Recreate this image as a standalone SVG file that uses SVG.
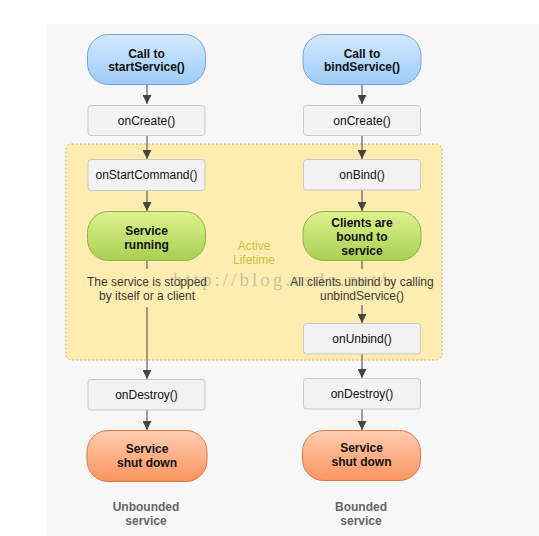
<svg xmlns="http://www.w3.org/2000/svg" width="539" height="536" viewBox="0 0 539 536">
<defs>
<linearGradient id="gBlue" x1="0" y1="0" x2="0" y2="1"><stop offset="0" stop-color="#d3eafd"/><stop offset="1" stop-color="#9dcbf8"/></linearGradient>
<linearGradient id="gGreen" x1="0" y1="0" x2="0" y2="1"><stop offset="0" stop-color="#def38e"/><stop offset="1" stop-color="#a8cf52"/></linearGradient>
<linearGradient id="gOrange" x1="0" y1="0" x2="0" y2="1"><stop offset="0" stop-color="#ffcdb0"/><stop offset="1" stop-color="#fb9460"/></linearGradient>
<marker id="arr" viewBox="0 0 10 10" refX="10" refY="5" markerWidth="9" markerHeight="9" markerUnits="userSpaceOnUse" orient="auto"><path d="M0,0 L10,5 L0,10 z" fill="#444"/></marker>
<style>
.box{fill:#f2f2f2;stroke:#c9c9c9;stroke-width:1}
.blue{fill:url(#gBlue);stroke:#789fe6;stroke-width:1}
.green{fill:url(#gGreen);stroke:#8fb04c;stroke-width:1}
.orange{fill:url(#gOrange);stroke:#d77a44;stroke-width:1}
.t{font-family:"Liberation Sans",Arial,sans-serif;font-size:12px;fill:#111;text-anchor:middle}
.b{font-weight:bold}
.d{fill:#3a3a3a}
.cap{font-family:"Liberation Sans",Arial,sans-serif;font-size:12px;font-weight:bold;fill:#666;text-anchor:middle}
.c{stroke:#444;stroke-width:1;fill:none}
.ca{stroke:#444;stroke-width:1;fill:none;marker-end:url(#arr)}
</style>
</defs>
<rect x="0" y="0" width="539" height="536" fill="#ffffff"/>
<rect x="47" y="24" width="492" height="512" fill="#f7f7f7"/>
<rect id="activeLifetime" x="66" y="144" width="376" height="216" rx="6" fill="#feedb0" stroke="#e0a15e" stroke-width="1" stroke-dasharray="2,2"/>
<text class="t" x="254" y="250" style="fill:#cfbf45">Active</text>
<text class="t" x="254" y="263.5" style="fill:#cfbf45">Lifetime</text>

<g id="connectors">
<line class="ca" x1="147" y1="85" x2="147" y2="104"/>
<line class="ca" x1="147" y1="135" x2="147" y2="159"/>
<line class="ca" x1="147" y1="190" x2="147" y2="211"/>
<line class="c" x1="147" y1="261" x2="147" y2="269"/>
<line class="ca" x1="147" y1="307" x2="147" y2="379"/>
<line class="ca" x1="147" y1="410" x2="147" y2="430"/>
<line class="ca" x1="362" y1="85" x2="362" y2="104"/>
<line class="ca" x1="362" y1="135" x2="362" y2="159"/>
<line class="ca" x1="362" y1="190" x2="362" y2="211"/>
<line class="c" x1="362" y1="261" x2="362" y2="269"/>
<line class="ca" x1="362" y1="305" x2="362" y2="323"/>
<line class="ca" x1="362" y1="354" x2="362" y2="378"/>
<line class="ca" x1="362" y1="409" x2="362" y2="430"/>
</g>

<g id="callStart"><rect class="blue" x="87.5" y="34.5" width="118" height="50" rx="21"/><text class="t b" x="146.5" y="57.5">Call to</text><text class="t b" x="146.5" y="71">startService()</text></g>
<g id="onCreateL"><rect class="box" x="88" y="105.5" width="117" height="30" rx="3"/><text class="t" x="146.5" y="125">onCreate()</text></g>
<g id="onStartCommand"><rect class="box" x="88" y="159.5" width="117" height="31" rx="3"/><text class="t" x="146.5" y="179">onStartCommand()</text></g>
<g id="serviceRunning"><rect class="green" x="87.5" y="211.5" width="118" height="49" rx="21"/><text class="t b" x="146.5" y="234.5">Service</text><text class="t b" x="146.5" y="248.5">running</text></g>
<g id="stoppedNote"><text class="t d" x="147" y="286">The service is stopped</text><text class="t d" x="147" y="299.5">by itself or a client</text></g>
<g id="onDestroyL"><rect class="box" x="88" y="379.5" width="117" height="30.5" rx="3"/><text class="t" x="146.5" y="399">onDestroy()</text></g>
<g id="shutDownL"><rect class="orange" x="87" y="430.5" width="120" height="51" rx="21"/><text class="t b" x="147" y="452.5">Service</text><text class="t b" x="147" y="467">shut down</text></g>
<g id="capL"><text class="cap" x="146" y="511">Unbounded</text><text class="cap" x="146" y="525">service</text></g>

<g id="callBind"><rect class="blue" x="303" y="34.5" width="118" height="50" rx="21"/><text class="t b" x="362" y="57.5">Call to</text><text class="t b" x="362" y="71">bindService()</text></g>
<g id="onCreateR"><rect class="box" x="303.5" y="105.5" width="117" height="30" rx="3"/><text class="t" x="362" y="125">onCreate()</text></g>
<g id="onBind"><rect class="box" x="303.5" y="159.5" width="117" height="30.5" rx="3"/><text class="t" x="362" y="179">onBind()</text></g>
<g id="clientsBound"><rect class="green" x="303" y="211.5" width="118" height="49" rx="21"/><text class="t b" x="362" y="227">Clients are</text><text class="t b" x="362" y="241">bound to</text><text class="t b" x="362" y="254.5">service</text></g>
<g id="unbindNote"><text class="t d" x="362" y="286">All clients unbind by calling</text><text class="t d" x="362" y="299.5">unbindService()</text></g>
<g id="onUnbind"><rect class="box" x="303.5" y="323.5" width="117" height="30.5" rx="3"/><text class="t" x="362" y="343">onUnbind()</text></g>
<g id="onDestroyR"><rect class="box" x="303.5" y="378.5" width="117" height="30.5" rx="3"/><text class="t" x="362" y="398">onDestroy()</text></g>
<g id="shutDownR"><rect class="orange" x="302.5" y="430.5" width="118" height="50" rx="21"/><text class="t b" x="361.5" y="452">Service</text><text class="t b" x="361.5" y="466">shut down</text></g>
<g id="capR"><text class="cap" x="361" y="511">Bounded</text><text class="cap" x="361" y="525">service</text></g>

<text x="173" y="286" font-family="'Liberation Serif','Times New Roman',serif" font-size="19" fill="#8a8a8a" fill-opacity="0.45" textLength="212" lengthAdjust="spacing">http://blog.csdn.net/</text>
</svg>
